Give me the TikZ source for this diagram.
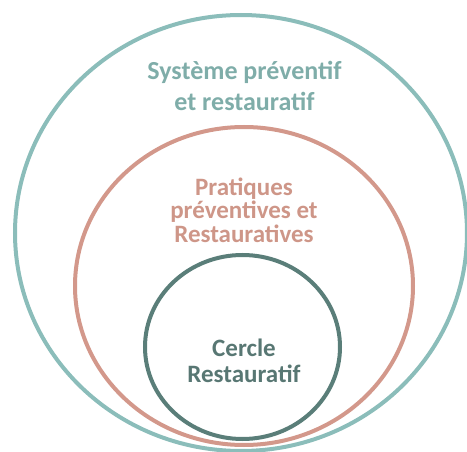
\documentclass[tikz,border=0pt]{standalone}
\usepackage{fontspec}
\setmainfont{Carlito}
\definecolor{outerc}{HTML}{8BBDBA}
\definecolor{outert}{HTML}{7FADA9}
\definecolor{midc}{HTML}{D3988B}
\definecolor{midt}{HTML}{CE9688}
\definecolor{innerc}{HTML}{5A7E79}
\definecolor{innert}{HTML}{587773}
\begin{document}
\begin{tikzpicture}[x=1pt,y=-1pt,
  ring/.style={line width=4pt},
  lbl/.style={align=center,inner sep=0pt,font=\bfseries}]
\useasboundingbox (0,0) rectangle (467,452);
\begin{scope}
\clip (0,0) rectangle (467,452);
\draw[ring,outerc] (241,233) ellipse [x radius=226,y radius=218];
\draw[ring,midc] (244,286) ellipse [x radius=169,y radius=159];
\draw[ring,innerc] (242.5,347) ellipse [x radius=97.5,y radius=92];
\end{scope}
\node[lbl,text=outert,font=\bfseries\fontsize{26}{31}\selectfont] (outerlbl) at (244.5,86) {Système préventif\\et restauratif};
\node[lbl,text=midt,font=\bfseries\fontsize{25}{23.5}\selectfont] (midlbl) at (244,210) {Pratiques\\préventives et\\Restauratives};
\node[lbl,text=innert,font=\bfseries\fontsize{25}{26}\selectfont] (innerlbl) at (244,361) {Cercle\\Restauratif};
\end{tikzpicture}
\end{document}
